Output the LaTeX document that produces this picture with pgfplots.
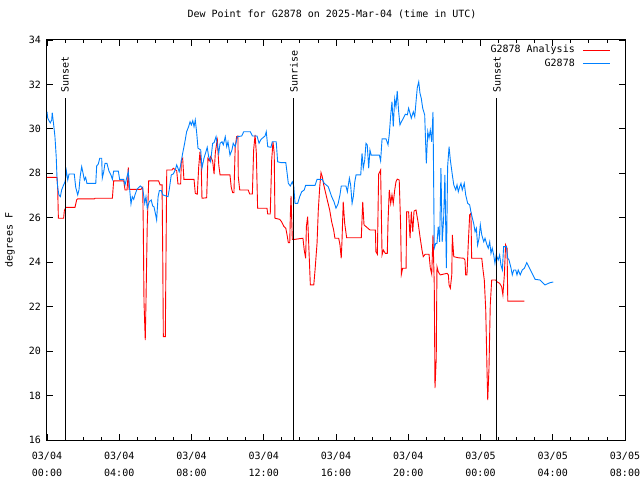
\documentclass[border=0pt]{standalone}
\usepackage{fontspec}
\setmainfont{DejaVu Sans Mono}
\usepackage{pgfplots}
\usepackage{pgfplotstable}
\pgfplotsset{compat=1.18}
\definecolor{gred}{RGB}{255,0,0}
\definecolor{gblue}{RGB}{0,128,255}

\pgfplotstableread{
h d
0.00 30.77
0.04 30.49
0.11 30.37
0.18 30.27
0.26 30.40
0.29 30.73
0.37 30.18
0.44 29.65
0.51 28.75
0.55 27.88
0.59 27.37
0.66 27.03
0.74 26.95
0.81 27.25
0.92 27.48
1.00 27.62
1.07 28.12
1.15 27.70
1.22 27.97
1.51 27.97
1.59 27.37
1.70 27.03
1.77 27.25
1.84 27.88
1.92 28.30
1.99 28.03
2.07 27.70
2.14 27.82
2.21 27.55
2.70 27.55
2.75 28.33
2.84 28.42
2.92 28.68
3.03 28.68
3.06 27.78
3.14 28.07
3.21 28.45
3.32 28.45
3.43 28.10
3.54 27.93
3.62 27.73
3.69 28.10
3.95 28.10
4.02 27.73
4.25 27.73
4.32 27.48
4.43 27.85
4.50 28.07
4.58 27.25
4.65 26.62
4.72 26.95
4.80 26.83
4.87 27.03
4.98 27.28
5.09 27.37
5.17 27.43
5.30 27.33
5.41 26.65
5.48 26.95
5.55 26.43
5.66 26.72
5.77 26.80
5.85 26.53
5.92 26.50
6.00 26.20
6.07 25.90
6.15 26.95
6.22 27.22
6.33 27.22
6.41 27.03
6.70 26.95
6.77 27.28
6.88 27.93
6.99 27.97
7.10 28.15
7.18 28.38
7.25 28.23
7.32 28.07
7.40 28.38
7.51 28.90
7.62 29.35
7.73 29.87
7.84 30.10
7.92 30.32
7.99 30.18
8.07 30.37
8.14 30.10
8.21 30.40
8.29 29.80
8.36 29.13
8.51 29.05
8.58 28.23
8.69 28.68
8.80 28.97
8.87 29.17
8.95 28.75
9.06 28.52
9.17 29.35
9.25 29.38
9.36 29.65
9.43 29.28
9.51 28.90
9.58 29.35
9.69 29.42
9.76 29.28
9.87 29.65
9.95 29.20
10.02 29.42
10.13 28.82
10.24 29.05
10.31 29.35
10.42 29.20
10.54 29.65
10.78 29.68
10.89 29.87
11.26 29.87
11.37 29.68
11.63 29.68
11.74 29.35
11.85 29.53
12.07 29.68
12.14 29.87
12.22 29.20
12.40 29.17
12.47 29.42
12.69 29.42
12.77 28.52
12.96 28.48
13.22 28.48
13.29 28.03
13.36 27.55
13.47 27.43
13.58 27.62
13.66 27.43
13.73 26.65
13.88 26.65
13.99 26.95
14.10 27.17
14.24 27.25
14.32 27.46
14.84 27.46
14.95 27.73
15.24 27.73
15.35 27.55
15.57 27.40
15.76 26.95
15.89 26.72
16.00 26.43
16.11 26.61
16.22 27.03
16.29 27.43
16.55 27.43
16.63 27.17
16.74 27.78
16.81 27.48
16.89 26.65
16.96 26.95
17.04 27.62
17.11 27.93
17.37 27.93
17.44 28.90
17.51 28.23
17.59 28.60
17.66 29.35
17.73 29.28
17.81 28.23
17.88 29.05
17.95 28.82
18.40 28.82
18.47 28.56
18.55 29.55
18.77 29.55
18.88 29.28
18.95 29.76
19.03 30.63
19.10 31.22
19.17 30.10
19.25 31.35
19.32 31.00
19.39 31.71
19.47 30.77
19.54 30.18
19.62 30.32
19.73 30.48
19.84 30.66
19.95 30.63
20.02 30.93
20.10 30.70
20.17 30.48
20.28 30.77
20.36 30.55
20.43 31.22
20.50 31.85
20.58 32.12
20.65 31.60
20.72 31.38
20.80 30.93
20.91 30.63
21.00 28.45
21.08 29.87
21.15 29.58
21.22 29.95
21.30 29.42
21.37 30.77
21.44 24.63
21.52 24.85
21.59 24.85
21.66 25.60
21.74 24.92
21.81 28.23
21.88 24.92
21.96 25.98
22.03 27.93
22.11 23.73
22.18 28.30
22.26 29.20
22.33 28.60
22.44 27.93
22.52 27.48
22.63 27.25
22.70 27.48
22.77 27.17
22.85 27.40
22.92 27.55
22.99 27.25
23.10 27.55
23.18 27.03
23.29 26.65
23.40 26.58
23.47 26.27
23.55 25.98
23.62 25.75
23.70 25.37
23.77 25.53
23.84 24.77
23.92 25.08
23.99 25.68
24.07 25.23
24.18 24.92
24.25 25.08
24.36 24.77
24.43 24.63
24.51 24.92
24.58 24.40
24.65 24.63
24.73 24.33
24.80 23.95
24.87 24.33
24.98 24.10
25.06 24.33
25.13 23.88
25.21 23.65
25.28 24.70
25.43 24.70
25.51 24.18
25.58 24.10
25.69 23.73
25.76 23.43
25.84 23.65
25.95 23.65
26.02 23.43
26.09 23.65
26.20 23.43
26.31 23.65
26.43 23.73
26.56 23.98
27.02 23.23
27.29 23.20
27.57 22.98
27.85 23.08
28.03 23.11
}\stationdata

\pgfplotstableread{
h d
0.00 27.82
0.55 27.82
0.59 27.37
0.63 25.98
0.92 25.98
0.96 26.32
1.04 26.47
1.55 26.47
1.64 26.80
1.70 26.85
2.62 26.85
2.66 26.88
3.62 26.88
3.69 27.66
4.25 27.66
4.32 27.25
4.43 27.25
4.47 27.70
4.50 28.27
4.54 27.28
5.20 27.28
5.30 27.37
5.33 25.63
5.37 22.22
5.44 20.50
5.48 22.22
5.55 25.68
5.63 27.66
6.18 27.66
6.26 27.48
6.37 27.48
6.41 24.10
6.44 20.65
6.55 20.65
6.59 24.40
6.63 28.15
6.92 28.15
6.99 28.23
7.18 28.12
7.25 27.52
7.40 27.52
7.44 28.60
7.51 28.68
7.58 27.73
8.14 27.73
8.21 27.10
8.32 27.06
8.40 28.30
8.47 28.97
8.54 28.30
8.58 26.88
8.84 26.90
8.91 28.68
8.99 28.57
9.06 28.75
9.17 28.56
9.25 27.97
9.32 28.93
9.40 29.38
9.43 29.50
9.51 28.38
9.58 27.93
10.13 27.93
10.20 27.37
10.28 27.13
10.35 27.13
10.42 29.20
10.50 29.65
10.57 29.68
10.59 27.85
10.67 27.25
11.14 27.25
11.22 27.07
11.37 27.07
11.44 29.05
11.52 29.73
11.59 28.90
11.66 26.43
12.18 26.43
12.22 26.17
12.36 26.17
12.44 28.60
12.51 29.42
12.58 28.90
12.62 25.98
12.88 25.93
12.99 25.82
13.10 25.63
13.22 25.53
13.29 25.23
13.36 24.88
13.44 24.88
13.47 26.05
13.51 26.98
13.58 25.03
13.73 25.03
14.17 25.08
14.24 24.55
14.32 24.18
14.36 25.60
14.43 26.05
14.51 24.40
14.58 22.98
14.77 22.98
14.84 23.65
14.95 24.85
15.02 26.35
15.10 27.40
15.17 28.03
15.24 27.85
15.32 27.48
15.43 27.10
15.54 26.72
15.65 26.35
15.76 25.82
15.87 25.45
15.94 25.08
16.15 25.08
16.22 24.78
16.29 24.18
16.33 24.92
16.40 26.72
16.48 25.75
16.59 25.10
17.40 25.10
17.48 26.72
17.55 25.68
17.88 25.45
18.18 25.45
18.21 24.47
18.29 24.36
18.36 27.96
18.47 28.15
18.55 24.33
18.62 24.55
18.73 24.40
18.84 24.40
18.88 25.82
18.95 27.25
19.03 26.65
19.10 27.03
19.17 26.65
19.25 27.25
19.32 27.62
19.39 27.74
19.50 27.70
19.58 25.60
19.62 23.46
19.69 23.73
19.88 23.73
19.91 26.27
20.02 26.27
20.10 25.08
20.17 26.27
20.25 25.37
20.32 26.30
20.43 26.35
20.54 25.82
20.65 25.15
20.76 24.55
20.83 24.25
20.94 24.36
21.15 24.36
21.22 23.75
21.30 23.46
21.37 25.23
21.44 22.98
21.48 18.33
21.55 19.68
21.59 23.80
21.66 23.57
21.77 23.43
22.15 23.50
22.22 23.43
22.26 22.98
22.33 22.83
22.41 23.43
22.44 25.23
22.52 24.25
22.77 24.20
23.07 24.18
23.14 24.10
23.18 23.43
23.25 23.43
23.32 24.78
23.40 26.13
23.47 26.20
23.51 24.18
24.07 24.18
24.14 23.65
24.21 23.20
24.29 21.85
24.36 19.15
24.40 17.80
24.47 19.23
24.54 22.08
24.62 23.20
24.84 23.20
24.91 23.12
25.06 23.05
25.17 22.90
25.24 22.53
25.32 23.43
25.39 24.78
25.47 24.63
25.51 22.25
26.43 22.25
}\analysisdata

\begin{document}
\begin{tikzpicture}
\useasboundingbox (0,0) rectangle (640bp,480bp);
\begin{axis}[
  at={(47bp,40bp)}, anchor=south west,
  width=578bp, height=400bp, scale only axis,
  xmin=0, xmax=32, ymin=16, ymax=34,
  xtick={0,4,...,32},
  xticklabels={{03/04\\00:00},{03/04\\04:00},{03/04\\08:00},{03/04\\12:00},{03/04\\16:00},{03/04\\20:00},{03/05\\00:00},{03/05\\04:00},{03/05\\08:00}},
  minor x tick num=3,
  ytick={16,18,...,34},
  tick align=inside,
  major tick length=6bp, minor tick length=3bp,
  every tick/.style={black, line width=0.8bp},
  axis line style={black, line width=1bp},
  font=\fontsize{10bp}{16.5bp}\selectfont,
  /pgf/number format/assume math mode=true,
  xticklabel style={align=center, anchor=north, inner sep=0pt, yshift=-12bp, font=\fontsize{10bp}{16.5bp}\selectfont},
  yticklabel style={anchor=east, inner sep=0pt, xshift=-6bp},
  title={Dew Point for G2878 on 2025-Mar-04 (time in UTC)},
  title style={at={(0.5,1)}, anchor=base, yshift=17bp, xshift=-4bp, inner sep=0pt},
  ylabel={degrees F},
  ylabel style={at={(axis description cs:-0.064,0.5)}, anchor=center},
]
\addplot[gred, line width=0.9bp] table[x=h, y=d] {\analysisdata};
\addplot[gblue, line width=0.9bp] table[x=h, y=d] {\stationdata};
\addplot[black, line width=0.9bp] coordinates {(1.00,16) (1.00,31.4)};
\addplot[black, line width=0.9bp] coordinates {(13.67,16) (13.67,31.4)};
\addplot[black, line width=0.9bp] coordinates {(24.91,16) (24.91,31.4)};
\node[rotate=90, anchor=west, inner sep=0pt] at (axis cs:1.00,31.62) {Sunset};
\node[rotate=90, anchor=west, inner sep=0pt] at (axis cs:13.67,31.62) {Sunrise};
\node[rotate=90, anchor=west, inner sep=0pt] at (axis cs:24.91,31.62) {Sunset};
% legend
\node[anchor=east, inner sep=0pt, font=\fontsize{10bp}{12bp}\selectfont] at (rel axis cs:0.9135,0.975) {G2878 Analysis};
\node[anchor=east, inner sep=0pt, font=\fontsize{10bp}{12bp}\selectfont] at (rel axis cs:0.9135,0.9425) {G2878};
\draw[gred, line width=0.9bp] (rel axis cs:0.9273,0.975) -- (rel axis cs:0.974,0.975);
\draw[gblue, line width=0.9bp] (rel axis cs:0.9273,0.9425) -- (rel axis cs:0.974,0.9425);
\end{axis}
\end{tikzpicture}
\end{document}
